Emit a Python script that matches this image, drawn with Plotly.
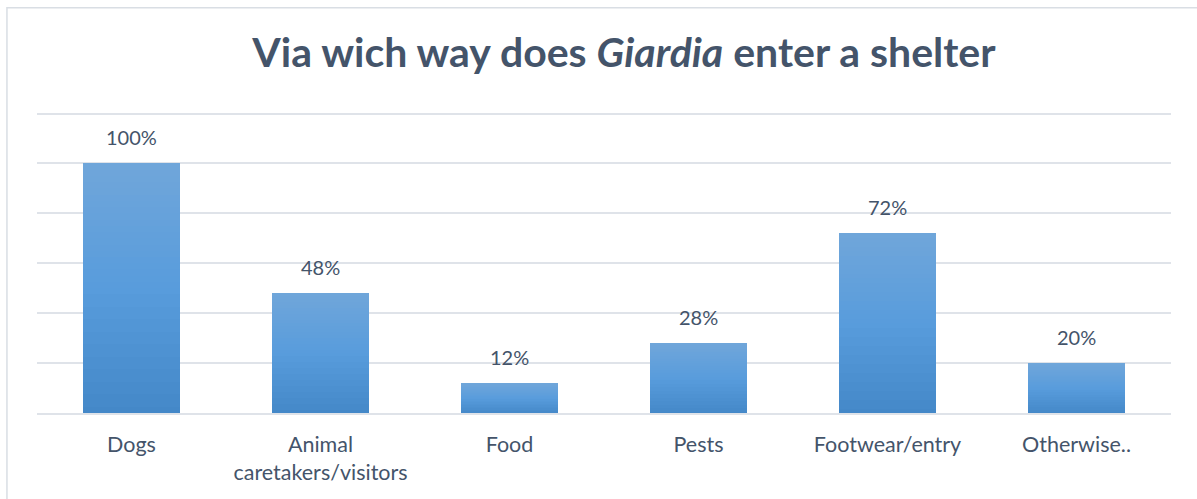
import plotly.graph_objects as go

# Survey: share of shelters naming each route of Giardia entry
categories = ["Dogs", "Animal<br>caretakers/visitors", "Food", "Pests", "Footwear/entry", "Otherwise.."]
shares = [100, 48, 12, 28, 72, 20]
y_ticks = [0, 20, 40, 60, 80, 100, 120]

TEXT = "#44546a"
GRID = "#dfe3e9"

# vertical colour gradient for the bars (top -> middle -> bottom)
stops = [(0.0, (0x70, 0xa6, 0xda)), (0.5, (0x58, 0x9c, 0xdc)), (1.0, (0x44, 0x88, 0xc8))]


def grad_color(t):
    for (t0, c0), (t1, c1) in zip(stops[:-1], stops[1:]):
        if t <= t1:
            f = (t - t0) / (t1 - t0)
            r, g, b = (round(a + (bb - a) * f) for a, bb in zip(c0, c1))
            return f"rgb({r},{g},{b})"
    r, g, b = stops[-1][1]
    return f"rgb({r},{g},{b})"


fig = go.Figure()
bands = 40
for k in range(bands):
    # band k counted from the bottom of each bar; t measured from the top
    t = 1 - (k + 0.5) / bands
    fig.add_trace(go.Bar(
        x=categories,
        y=[v / bands for v in shares],
        base=[v * k / bands for v in shares],
        marker=dict(color=grad_color(t), line=dict(width=0)),
        width=0.508,
        hoverinfo="skip",
        showlegend=False,
    ))

# value labels above the bars
for c, v in zip(categories, shares):
    fig.add_annotation(
        x=c, y=v, text=f"{v}%", showarrow=False,
        yanchor="bottom", yshift=12,
        font=dict(family="Lato", size=20, color=TEXT),
    )

# light frame around the chart
fig.add_shape(
    type="rect", xref="paper", yref="paper",
    x0=-0.0265, x1=1.04, y0=-0.32, y1=1.342,
    line=dict(color="#d9dee4", width=1.5), fillcolor="rgba(0,0,0,0)", layer="below",
)

fig.update_layout(
    width=1197, height=499,
    margin=dict(l=37, r=26, t=110.5, b=86),
    paper_bgcolor="white", plot_bgcolor="white",
    barmode="overlay",
    bargap=0,
    title=dict(
        text="Via wich way does <i>Giardia</i> enter a shelter",
        x=0.5176, xanchor="center", xref="paper",
        y=0.894, yanchor="middle",
        font=dict(family="Lato", size=41, color=TEXT, weight="bold"),
    ),
    xaxis=dict(
        showgrid=False, showline=True, linecolor=GRID, linewidth=1.5,
        ticks="outside", ticklen=11, tickcolor="rgba(0,0,0,0)",
        tickfont=dict(family="Lato", size=21.5, color=TEXT),
        fixedrange=True,
    ),
    yaxis=dict(
        range=[0, 121], tickvals=y_ticks, showticklabels=False,
        showgrid=True, gridcolor=GRID, gridwidth=1.5,
        zeroline=False, showline=False, fixedrange=True,
    ),
    showlegend=False,
)

fig.write_html("out.html")
